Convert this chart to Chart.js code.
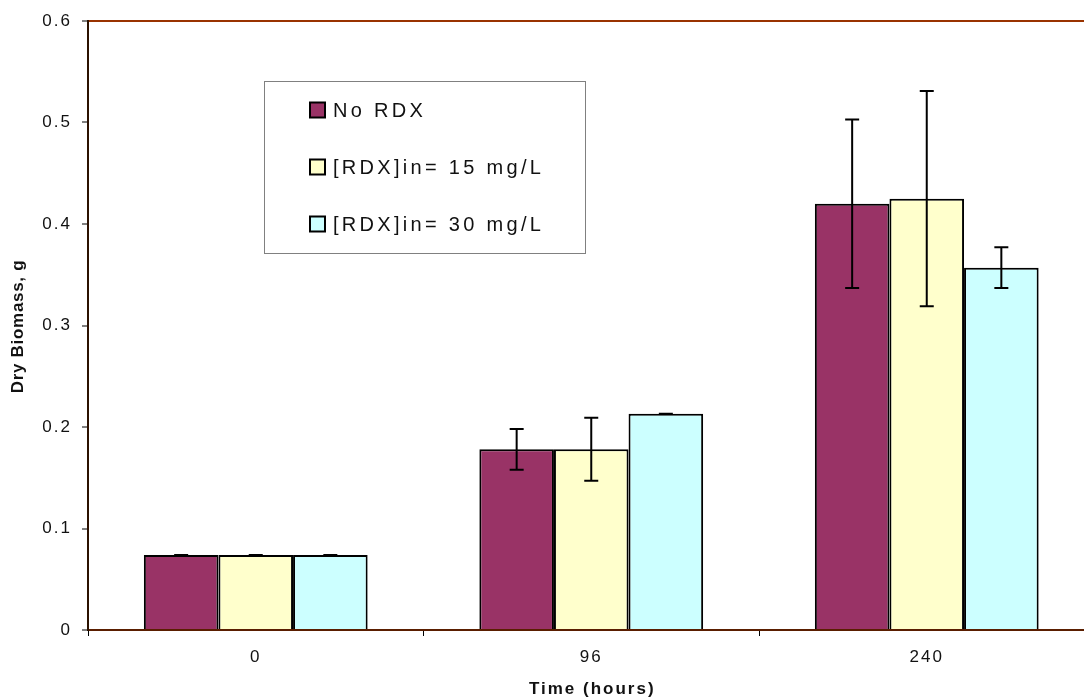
<!DOCTYPE html>
<html>
<head>
<meta charset="utf-8">
<script src="https://cdn.jsdelivr.net/npm/chart.js@4/dist/chart.umd.min.js"></script>
<style>
  html, body { margin: 0; padding: 0; background: #fff; overflow: hidden; }
  #wrap { width: 1100px; height: 698px; }
</style>
</head>
<body>
<div id="wrap"><canvas id="chart"></canvas></div>
<script>
// ── Données ─────────────────────────────────────────────
const categories = ["0", "96", "240"];
const seriesLabels = ["No RDX", "[RDX]in= 15 mg/L", "[RDX]in= 30 mg/L"];
const noRdx    = [0.074, 0.178, 0.420];
const noRdxErr = [0.000, 0.020, 0.083];
const rdx15    = [0.074, 0.178, 0.425];
const rdx15Err = [0.000, 0.031, 0.106];
const rdx30    = [0.074, 0.213, 0.357];
const rdx30Err = [0.000, 0.000, 0.020];
const yTicks   = [0, 0.1, 0.2, 0.3, 0.4, 0.5, 0.6];
const xTitle = "Time (hours)";
const yTitle = "Dry Biomass, g";

const colors = ["#993366", "#FFFFCC", "#CCFFFF"];
const errors = [noRdxErr, rdx15Err, rdx30Err];
const FONT = "'Liberation Sans', Arial, sans-serif";

// letter spacing des graduations (Chart.js ne le gère pas)
const spacing = {
  id: "spacing",
  beforeUpdate(chart) { chart.ctx.letterSpacing = "2px"; },
  beforeDraw(chart) { chart.ctx.letterSpacing = "2px"; },
};

// barres d'erreur
const errorBars = {
  id: "errorBars",
  afterDatasetsDraw(chart) {
    const ctx = chart.ctx, y = chart.scales.y;
    ctx.save();
    ctx.strokeStyle = "#000";
    ctx.lineWidth = 2;
    chart.data.datasets.forEach((ds, i) => {
      const meta = chart.getDatasetMeta(i);
      meta.data.forEach((bar, j) => {
        const v = ds.data[j], e = errors[i][j];
        const top = y.getPixelForValue(v + e), bot = y.getPixelForValue(v - e);
        ctx.beginPath();
        ctx.moveTo(bar.x, top); ctx.lineTo(bar.x, bot);
        ctx.moveTo(bar.x - 7, top); ctx.lineTo(bar.x + 7, top);
        ctx.moveTo(bar.x - 7, bot); ctx.lineTo(bar.x + 7, bot);
        ctx.stroke();
      });
    });
    ctx.restore();
  }
};

// titres des axes + légende encadrée
const decor = {
  id: "decor",
  afterDraw(chart) {
    const ctx = chart.ctx, area = chart.chartArea;
    ctx.save();
    ctx.fillStyle = "#111";
    ctx.textAlign = "center";
    ctx.textBaseline = "middle";

    ctx.font = "bold 17px " + FONT;
    ctx.letterSpacing = "2px";
    ctx.fillText(xTitle, (area.left + area.right) / 2 + 1, 689);

    ctx.save();
    ctx.translate(18, (area.top + area.bottom) / 2 + 1);
    ctx.rotate(-Math.PI / 2);
    ctx.letterSpacing = "0.7px";
    ctx.fillText(yTitle, 0, 0);
    ctx.restore();

    ctx.fillStyle = "#fff";
    ctx.strokeStyle = "#808080";
    ctx.lineWidth = 1;
    ctx.fillRect(264.5, 81.5, 321, 172);
    ctx.strokeRect(264.5, 81.5, 321, 172);
    ctx.font = "20px " + FONT;
    ctx.letterSpacing = "3.3px";
    ctx.textAlign = "left";
    chart.data.datasets.forEach((ds, i) => {
      const cy = 110 + i * 57;
      ctx.fillStyle = ds.backgroundColor;
      ctx.fillRect(310, cy - 7.5, 15, 15);
      ctx.strokeStyle = "#000";
      ctx.lineWidth = 2;
      ctx.strokeRect(310, cy - 7.5, 15, 15);
      ctx.fillStyle = "#111";
      ctx.fillText(ds.label, 333, cy + 1);
    });
    ctx.restore();
  }
};

new Chart(document.getElementById("chart"), {
  type: "bar",
  data: {
    labels: categories,
    datasets: [noRdx, rdx15, rdx30].map((d, i) => ({
      label: seriesLabels[i],
      data: d,
      backgroundColor: colors[i],
      borderColor: "#000",
      borderWidth: 2,
      categoryPercentage: 0.667,
      barPercentage: 1,
    }))
  },
  options: {
    responsive: true, maintainAspectRatio: false,
    animation: false,
    layout: { padding: { top: 21, right: 5.5, left: 0, bottom: 0 } },
    plugins: { legend: { display: false }, tooltip: { enabled: false } },
    scales: {
      x: {
        afterFit: s => { s.height = 68; },
        grid: { drawOnChartArea: false, tickLength: 6, tickColor: "#000", tickWidth: 1 },
        border: { color: "#5a1e00", width: 2 },
        ticks: { color: "#111", padding: 11, font: { family: FONT, size: 17 } },
      },
      y: {
        min: 0, max: 0.6,
        afterFit: s => { s.width = 88; },
        afterBuildTicks: s => { s.ticks = yTicks.map(v => ({ value: v })); },
        grid: {
          color: c => (c.tick && Math.abs(c.tick.value - 0.6) < 1e-6) ? "#993300" : "rgba(0,0,0,0)",
          lineWidth: 2, tickLength: 6, tickColor: "#000", tickWidth: 1
        },
        border: { color: "#2b1100", width: 2 },
        ticks: {
          color: "#111", padding: 10,
          font: { family: FONT, size: 17 },
          callback: v => String(Number(v.toFixed(1)))
        }
      }
    }
  },
  plugins: [spacing, errorBars, decor]
});
</script>
</body>
</html>
